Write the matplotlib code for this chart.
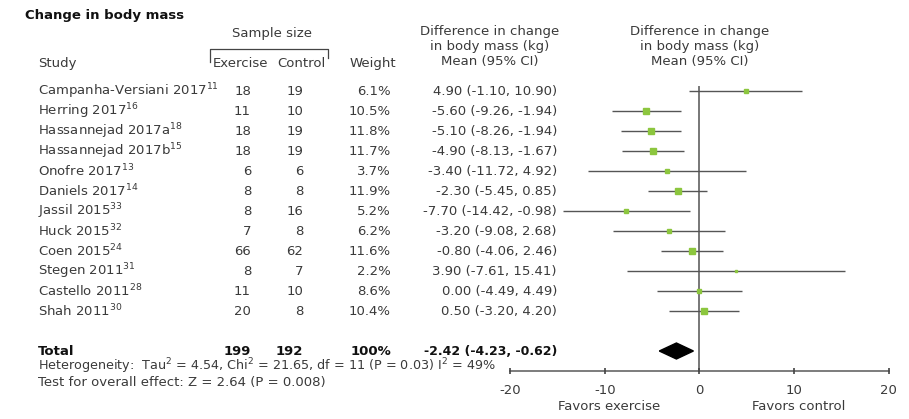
import matplotlib.pyplot as plt
import matplotlib.transforms as mtransforms

plt.rcParams['font.family'] = ['DejaVu Sans']
plt.rcParams['mathtext.fontset'] = 'dejavusans'
plt.rcParams['mathtext.default'] = 'regular'

# data
studies = ['Campanha-Versiani 2017', 'Herring 2017', 'Hassannejad 2017a', 'Hassannejad 2017b',
           'Onofre 2017', 'Daniels 2017', 'Jassil 2015', 'Huck 2015', 'Coen 2015',
           'Stegen 2011', 'Castello 2011', 'Shah 2011']
refs = ['11', '16', '18', '15', '13', '14', '33', '32', '24', '31', '28', '30']
n_exercise = [18, 11, 18, 18, 6, 8, 8, 7, 66, 8, 11, 20]
n_control = [19, 10, 19, 19, 6, 8, 16, 8, 62, 7, 10, 8]
weights = [6.1, 10.5, 11.8, 11.7, 3.7, 11.9, 5.2, 6.2, 11.6, 2.2, 8.6, 10.4]
means = [4.90, -5.60, -5.10, -4.90, -3.40, -2.30, -7.70, -3.20, -0.80, 3.90, 0.00, 0.50]
ci_low = [-1.10, -9.26, -8.26, -8.13, -11.72, -5.45, -14.42, -9.08, -4.06, -7.61, -4.49, -3.20]
ci_high = [10.90, -1.94, -1.94, -1.67, 4.92, 0.85, -0.98, 2.68, 2.46, 15.41, 4.49, 4.20]

total_ex, total_ct = 199, 192
total_mean, total_low, total_high = -2.42, -4.23, -0.62
xticks = [-20, -10, 0, 10, 20]

# figure
W, H = 909, 419
fig = plt.figure(figsize=(W / 100, H / 100), dpi=100)
ax = fig.add_axes([0, 0, 1, 1])
x0, scale = 699.3, 9.46          # pixel of zero, pixels per kg
row0, rowh = 91, 20              # pixel of first row, pixels per row
ax.set_xlim(-x0 / scale, (W - x0) / scale)
ax.set_ylim((H - row0) / rowh, -row0 / rowh)
ax.axis('off')

tr = mtransforms.blended_transform_factory(fig.transFigure, ax.transData)
def px(x):
    return x / W

fs = 9.5
tc = '#3a3a3a'
dark = '#111111'

# headers
ax.text(px(25), -3.8, 'Change in body mass', transform=tr, fontsize=9.5,
        fontweight='bold', color=dark, va='center')
ax.text(px(272), -2.9, 'Sample size', transform=tr, fontsize=fs, color=tc,
        ha='center', va='center')
ax.plot([px(210), px(210), px(328), px(328)], [-1.45, -2.1, -2.1, -1.65],
        transform=tr, color='#444444', lw=0.9)
ax.text(px(38), -1.4, 'Study', transform=tr, fontsize=fs, color=tc, va='center')
ax.text(px(213), -1.4, 'Exercise', transform=tr, fontsize=fs, color=tc, va='center')
ax.text(px(325), -1.4, 'Control', transform=tr, fontsize=fs, color=tc,
        va='center', ha='right')
ax.text(px(373), -1.4, 'Weight', transform=tr, fontsize=fs, color=tc,
        va='center', ha='center')
header = 'Difference in change\nin body mass (kg)\nMean (95% CI)'
ax.text(px(490), -2.25, header, transform=tr, fontsize=fs, color=tc,
        ha='center', va='center', linespacing=1.2)
ax.text(0, -2.25, header, fontsize=fs, color=tc, ha='center', va='center',
        linespacing=1.2)

# study rows
for i, name in enumerate(studies):
    ax.text(px(38), i, f'{name}$^{{{refs[i]}}}$', transform=tr, fontsize=fs,
            color=tc, va='center')
    ax.text(px(251), i, str(n_exercise[i]), transform=tr, fontsize=fs,
            color=tc, va='center', ha='right')
    ax.text(px(303), i, str(n_control[i]), transform=tr, fontsize=fs,
            color=tc, va='center', ha='right')
    ax.text(px(391), i, f'{weights[i]:.1f}%', transform=tr, fontsize=fs,
            color=tc, va='center', ha='right')
    ax.text(px(557), i, f'{means[i]:.2f} ({ci_low[i]:.2f}, {ci_high[i]:.2f})',
            transform=tr, fontsize=fs, color=tc, va='center', ha='right')
    ax.plot([ci_low[i], ci_high[i]], [i, i], color='#555555', lw=1.0,
            solid_capstyle='butt', zorder=2)
    ax.plot(means[i], i, marker='s', ms=1.2 * weights[i] ** 0.5,
            color='#8cc63e', mec='#8cc63e', zorder=3)

# total row
tot = len(studies) + 1
ax.text(px(38), tot, 'Total', transform=tr, fontsize=fs, fontweight='bold',
        color=dark, va='center')
ax.text(px(251), tot, str(total_ex), transform=tr, fontsize=fs, fontweight='bold',
        color=dark, va='center', ha='right')
ax.text(px(303), tot, str(total_ct), transform=tr, fontsize=fs, fontweight='bold',
        color=dark, va='center', ha='right')
ax.text(px(391), tot, '100%', transform=tr, fontsize=fs, fontweight='bold',
        color=dark, va='center', ha='right')
ax.text(px(557), tot, f'{total_mean:.2f} ({total_low:.2f}, {total_high:.2f})',
        transform=tr, fontsize=9, fontweight='bold', color=dark,
        va='center', ha='right')
ax.fill([total_low, total_mean, total_high, total_mean],
        [tot, tot - 0.4, tot, tot + 0.4], color='black', zorder=3)

ax.text(px(38), tot + 0.77,
        'Heterogeneity:  Tau$^2$ = 4.54, Chi$^2$ = 21.65, df = 11 (P = 0.03) I$^2$ = 49%',
        transform=tr, fontsize=9.2, color=tc, va='center')
ax.text(px(38), tot + 1.55, 'Test for overall effect: Z = 2.64 (P = 0.008)',
        transform=tr, fontsize=fs, color=tc, va='center')

# axis and zero line
axis_y = tot + 1
ax.plot([0, 0], [-0.2, axis_y], color='#777777', lw=1.4, zorder=1)
ax.plot([xticks[0], xticks[-1]], [axis_y, axis_y], color='#666666', lw=1.2)
ax.plot(xticks, [axis_y] * len(xticks), ls='', marker='|', ms=5,
        mew=1.2, color='#444444')
for t in xticks:
    ax.text(t, axis_y + 0.95, str(t), fontsize=fs, color=tc, ha='center',
            va='center')
ax.text(-9.5, axis_y + 1.75, 'Favors exercise', fontsize=fs, color=tc,
        ha='center', va='center')
ax.text(10.5, axis_y + 1.75, 'Favors control', fontsize=fs, color=tc,
        ha='center', va='center')

fig.savefig('out.png', dpi=100, facecolor='white')
